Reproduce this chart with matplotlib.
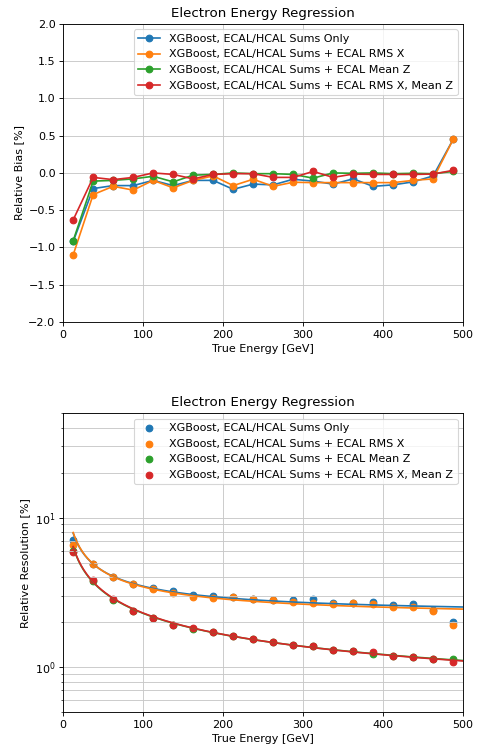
import numpy as np
import matplotlib
matplotlib.use("Agg")
import matplotlib.pyplot as plt

energy = [12.5, 37.5, 62.5, 87.5, 112.5, 137.5, 162.5, 187.5, 212.5, 237.5,
          262.5, 287.5, 312.5, 337.5, 362.5, 387.5, 412.5, 437.5, 462.5, 487.5]

labels = ["XGBoost, ECAL/HCAL Sums Only",
          "XGBoost, ECAL/HCAL Sums + ECAL RMS X",
          "XGBoost, ECAL/HCAL Sums + ECAL Mean Z",
          "XGBoost, ECAL/HCAL Sums + ECAL RMS X, Mean Z"]
colors = ["#1f77b4", "#ff7f0e", "#2ca02c", "#d62728"]

bias_sums = [-0.92, -0.21, -0.17, -0.17, -0.10, -0.17, -0.10, -0.10, -0.22, -0.15,
             -0.16, -0.085, -0.11, -0.15, -0.08, -0.18, -0.16, -0.12, -0.04, 0.45]
bias_rmsx = [-1.10, -0.29, -0.18, -0.23, -0.10, -0.20, -0.10, -0.04, -0.17, -0.085,
             -0.18, -0.125, -0.13, -0.13, -0.13, -0.13, -0.13, -0.10, -0.08, 0.45]
bias_meanz = [-0.91, -0.11, -0.10, -0.08, -0.045, -0.12, -0.03, -0.02, 0.0, -0.01,
              -0.01, -0.02, -0.07, 0.0, -0.005, 0.0, -0.01, -0.005, -0.01, 0.02]
bias_both = [-0.63, -0.06, -0.09, -0.06, 0.00, -0.02, -0.08, -0.02, -0.01, -0.01,
             -0.06, -0.06, 0.02, -0.06, -0.015, -0.02, -0.02, -0.02, -0.015, 0.035]

res_sums = [7.05, 4.87, 4.00, 3.59, 3.37, 3.23, 3.05, 2.99, 2.96, 2.87,
            2.81, 2.81, 2.84, 2.70, 2.70, 2.72, 2.62, 2.64, 2.42, 2.00]
res_rmsx = [6.53, 4.87, 4.00, 3.58, 3.31, 3.15, 2.97, 2.91, 2.94, 2.84,
            2.81, 2.72, 2.67, 2.66, 2.68, 2.64, 2.52, 2.51, 2.37, 1.93]
res_meanz = [6.00, 3.80, 2.82, 2.36, 2.13, 1.93, 1.81, 1.71, 1.62, 1.54,
             1.48, 1.41, 1.38, 1.31, 1.29, 1.22, 1.19, 1.17, 1.14, 1.14]
res_both = [5.92, 3.82, 2.85, 2.37, 2.14, 1.93, 1.82, 1.71, 1.62, 1.54,
            1.47, 1.41, 1.38, 1.31, 1.28, 1.27, 1.19, 1.17, 1.14, 1.08]

biases = [bias_sums, bias_rmsx, bias_meanz, bias_both]
resolutions = [res_sums, res_rmsx, res_meanz, res_both]


def fit_resolution(E, r):
    """Fit r = sqrt(A/E + B) by least squares in r (first bin excluded)."""
    sel = E > 20
    x, y = E[sel], r[sel]
    M = np.vstack([1.0 / x, np.ones_like(x)]).T
    p, *_ = np.linalg.lstsq(M, y ** 2, rcond=None)
    for _ in range(50):
        m = np.sqrt(np.clip(p[0] / x + p[1], 1e-9, None))
        J = np.vstack([0.5 / (m * x), 0.5 / m]).T
        dp, *_ = np.linalg.lstsq(J, y - m, rcond=None)
        p = p + dp
    return p


DPI = 80
fig = plt.figure(figsize=(486 / DPI, 747 / DPI), dpi=DPI)
ax1 = fig.add_axes([0.13, 0.569, 0.823, 0.399])
ax2 = fig.add_axes([0.13, 0.0465, 0.823, 0.4005])

E = np.array(energy)
for b, c, l in zip(biases, colors, labels):
    ax1.plot(E, b, "o-", color=c, label=l)
ax1.set_xlim(0, 500)
ax1.set_ylim(-2.0, 2.0)
ax1.set_yticks(np.arange(-2.0, 2.01, 0.5))
ax1.grid(True, color="#c8c8c8")
ax1.set_title("Electron Energy Regression")
ax1.set_xlabel("True Energy [GeV]")
ax1.set_ylabel("Relative Bias [%]")
ax1.legend(loc="upper right")

Ef = np.linspace(12.5, 500, 300)
for r, c, l in zip(resolutions, colors, labels):
    ax2.scatter(E, r, color=c, label=l)
for r, c in zip(resolutions, colors):
    p = fit_resolution(E, np.array(r))
    fit = np.sqrt(np.clip(p[0] / Ef + p[1], 1e-6, None))
    ax2.plot(Ef, fit, color=c)
ax2.set_yscale("log")
ax2.set_xlim(0, 500)
ax2.set_ylim(0.5, 50)
ax2.grid(True, which="both", color="#c8c8c8")
ax2.set_title("Electron Energy Regression")
ax2.set_xlabel("True Energy [GeV]")
ax2.set_ylabel("Relative Resolution [%]")
ax2.legend(loc="upper right")

fig.savefig("out.png", dpi=DPI)
